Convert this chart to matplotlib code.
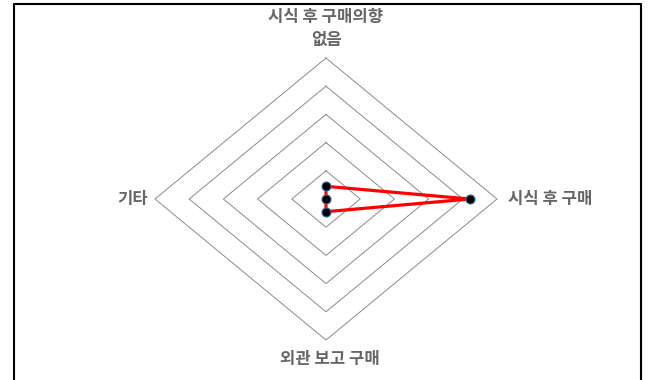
import numpy as np
import matplotlib
matplotlib.use('Agg')
from matplotlib import pyplot as plt
from matplotlib.lines import Line2D

plt.rcParams['font.family'] = ['Noto Sans CJK KR', 'DejaVu Sans']

labels = ['시식 후 구매의향\n없음', '시식 후 구매', '외관 보고 구매', '기타']
values = [9, 84, 9, 0]
max_val = 100
ring_steps = [20, 40, 60, 80, 100]

W, H = 648, 380
cx, cy = 326, 181          # center in pixels (from bottom)
rx, ry = 171, 141          # outer ring radius in pixels

fig = plt.figure(figsize=(W / 100, H / 100), dpi=100)
ax = fig.add_axes([0, 0, 1, 1])
ax.set_xlim(-cx / rx, (W - cx) / rx)
ax.set_ylim(-cy / ry, (H - cy) / ry)
ax.axis('off')

n = len(labels)
theta = np.pi / 2 - np.arange(n) * 2 * np.pi / n

# diamond rings
for s in ring_steps:
    r = s / max_val
    xs = np.append(r * np.cos(theta), r * np.cos(theta[0]))
    ys = np.append(r * np.sin(theta), r * np.sin(theta[0]))
    ax.plot(xs, ys, color='#8a8a8a', lw=0.7, zorder=1)

# data
v = np.array(values) / max_val
xs = np.append(v * np.cos(theta), v[0] * np.cos(theta[0]))
ys = np.append(v * np.sin(theta), v[0] * np.sin(theta[0]))
ax.plot(xs, ys, color='#ff0000', lw=2.3, zorder=2, solid_joinstyle='miter')
ax.plot(v * np.cos(theta), v * np.sin(theta), 'o', color='black', ms=6.5,
        mec='#3a6fa8', mew=0.8, ls='none', zorder=3)

# axis labels
txt = dict(color='#666666', fontsize=12, fontweight='bold')
ax.text(0, 1 + 9 / ry, labels[0], ha='center', va='bottom', linespacing=1.35, **txt)
ax.text(1 + 11 / rx, 0, labels[1], ha='left', va='center', **txt)
ax.text(0.02, -1 - 10 / ry, labels[2], ha='center', va='top', **txt)
ax.text(-1 - 7 / rx, 0, labels[3], ha='right', va='center', **txt)

# frame (left, top, right)
x0, x1, y1 = 13.5 / W, 641 / W, 1 - 3.5 / H
fig.add_artist(Line2D([x0, x0, x1, x1], [0, y1, y1, 0], transform=fig.transFigure,
                      color='black', lw=1.5))

fig.savefig('out.png', dpi=100)
